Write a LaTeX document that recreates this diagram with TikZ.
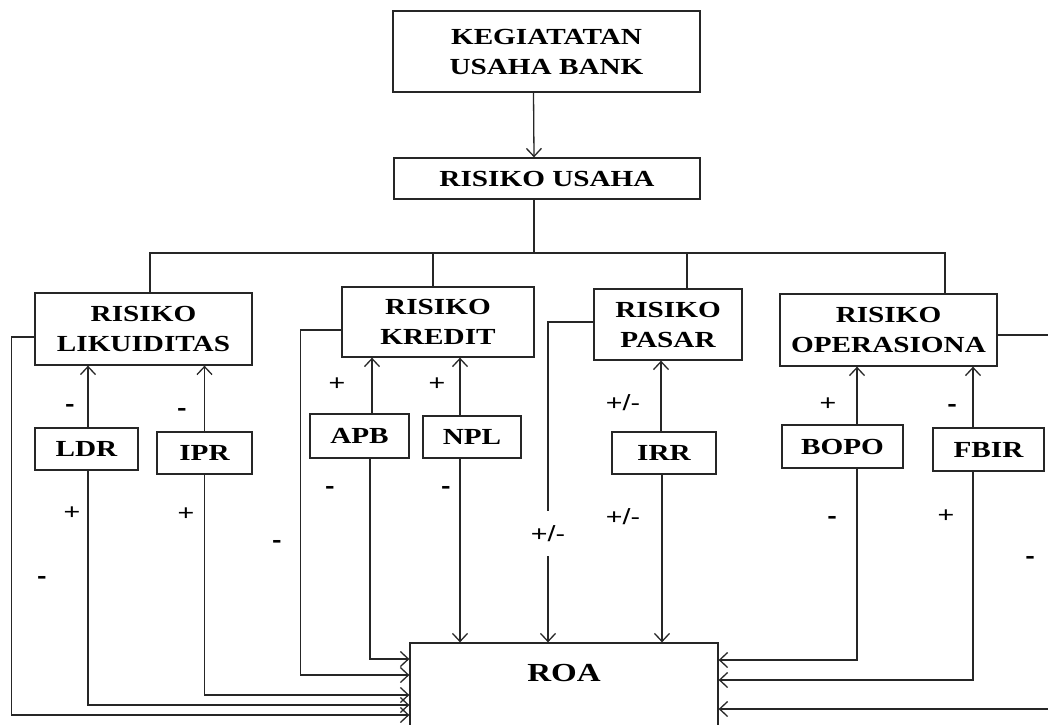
\documentclass[tikz,border=0pt]{standalone}
\usepackage{fontspec}
\usetikzlibrary{arrows.meta}
\newfontfamily\boxfont[FakeStretch=1.27]{Liberation Serif}
\newfontfamily\signfont[FakeStretch=1.3]{Liberation Sans}
\newcommand{\sgnminus}{\textbf{-}}
\tikzset{box/.style={draw=black!85,line width=1.3pt,inner sep=0pt,align=center,font=\boxfont\bfseries\fontsize{23}{30}\selectfont},line/.style={draw=black!85,line width=1.3pt},link/.style={draw=black!85,line width=1.3pt,-{Straight Barb[length=8pt,width=15pt]}},sign/.style={font=\signfont\fontsize{22}{24}\selectfont,inner sep=1pt}}

\begin{document}
\begin{tikzpicture}[x=1pt,y=-1pt]
\useasboundingbox (0,0) rectangle (1048,724);
\node[box,minimum width=307pt,minimum height=81pt] (keg) at (546.5,51.5) {KEGIATATAN\\USAHA BANK};
\node[box,minimum width=306pt,minimum height=41pt] (usaha) at (547,178.5) {RISIKO USAHA};
\node[box,minimum width=217pt,minimum height=72pt] (lik) at (143.5,329) {RISIKO\\LIKUIDITAS};
\node[box,minimum width=192pt,minimum height=70pt] (kre) at (438,322) {RISIKO\\KREDIT};
\node[box,minimum width=148pt,minimum height=71pt] (pas) at (668,324.5) {RISIKO\\PASAR};
\node[box,minimum width=217pt,minimum height=72pt] (ops) at (888.5,330) {RISIKO\\OPERASIONA};
\node[box,minimum width=103pt,minimum height=42pt] (ldr) at (86.5,449) {LDR};
\node[box,minimum width=95pt,minimum height=42pt] (ipr) at (204.5,453) {IPR};
\node[box,minimum width=99pt,minimum height=44pt] (apb) at (359.5,436) {APB};
\node[box,minimum width=98pt,minimum height=42pt] (npl) at (472,437) {NPL};
\node[box,minimum width=104pt,minimum height=42pt] (irr) at (664,453) {IRR};
\node[box,minimum width=121pt,minimum height=43pt] (bopo) at (842.5,446.5) {BOPO};
\node[box,minimum width=111pt,minimum height=43pt] (fbir) at (988.5,449.5) {FBIR};
\node[box,minimum width=308pt,minimum height=87pt,font=\boxfont\bfseries\fontsize{26}{30}\selectfont,text height=17pt,text depth=28pt] (roa) at (564,686.5) {ROA};
% pohon risiko
\draw[link] ([xshift=-13]keg.south) -- ([xshift=-13]usaha.north);
\coordinate (bus) at (534,253);
\draw[line] ([xshift=-13]usaha.south) -- (bus);
\draw[line] ([xshift=6.5]lik.north) |- (bus) -| ([xshift=56.5]ops.north);
\foreach \n/\d in {kre/-5,pas/19}\draw[line] ([xshift=\d]\n.north) -- ([xshift=\d]\n.north |- bus);
\foreach \s/\t/\d in {ldr/lik/1.5,ipr/lik/0,apb/kre/12.5,npl/kre/-12,irr/pas/-3,bopo/ops/14.5,fbir/ops/-15.5}\draw[link] ([xshift=\d]\s.north) -- ([xshift=\d]\s.north |- \t.south);
% ke ROA
\foreach \s/\d/\e in {ldr/1.5/-18.5,ipr/0/-8.5,apb/10.5/27.5}\draw[link] ([xshift=\d]\s.south) |- ([yshift=\e]roa.west);
\draw[link] ([yshift=-8]kre.west) -- ++(-41,0) |- ([yshift=11.5]roa.west);
\draw[link] ([yshift=-8]lik.west) -- ++(-23,0) |- ([yshift=-28.5]roa.west);
\draw[link] ([xshift=-12]npl.south) -- ([xshift=-104]roa.north);
\draw[link] ([xshift=-2]irr.south) -- ([xshift=98]roa.north);
\draw[link] ([yshift=2.5]pas.west) -| node[sign,pos=.83,fill=white,inner ysep=14pt] (gpm) {+/-} ([xshift=-16]roa.north);
\foreach \s/\d/\e in {bopo/14.5/26.5,fbir/-15.5/6.5}\draw[link] ([xshift=\d]\s.south) |- ([yshift=\e]roa.east);
\draw[link] ([yshift=-5]ops.east) -- ++(58,0) |- ([yshift=-22.5]roa.east);
% tanda
\foreach \x/\y/\t [count=\i] in {70/408/\sgnminus,182/412/\sgnminus,337/384/+,437/384/+,623/403/{+/-},828/404/+,952/408/\sgnminus,72/513/+,42/580/\sgnminus,186/514/+,277/544/\sgnminus,330/490/\sgnminus,446/490/\sgnminus,623/517/{+/-},832/520/\sgnminus,946/516/+,1030/560/\sgnminus}\node[sign] (g\i) at (\x,\y) {\t};
\end{tikzpicture}
\end{document}
